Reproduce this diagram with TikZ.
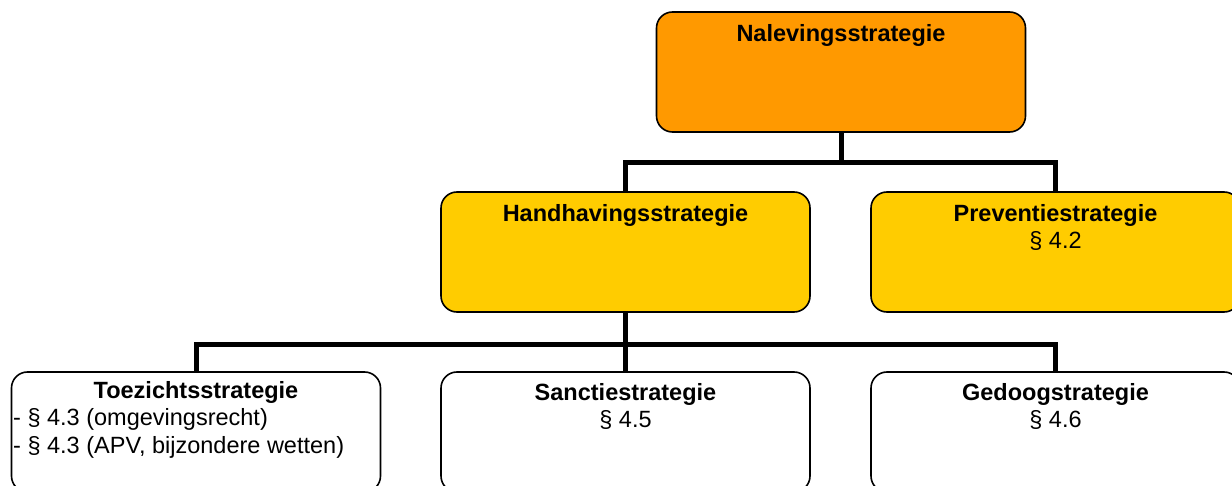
\documentclass[tikz,border=0pt]{standalone}
\usepackage{fontspec}
\setmainfont{Liberation Sans}
\begin{document}
\begin{tikzpicture}[x=1pt,y=-1pt,
  box/.style={draw=black,line width=1.6pt,rounded corners=16pt,
    minimum width=369pt,minimum height=120pt,inner sep=0pt},
  orangebox/.style={box,fill=naleving},
  yellowbox/.style={box,fill=strat},
  whitebox/.style={box,fill=white},
  wire/.style={line width=5pt},
  lbl/.style={anchor=base,inner sep=0pt,font=\fontsize{23.5}{28}\selectfont},
  title/.style={lbl,font=\fontsize{23.5}{28}\selectfont\bfseries}]
\definecolor{naleving}{HTML}{FF9900}
\definecolor{strat}{HTML}{FFCC00}
\useasboundingbox (0,0) rectangle (1232,486);
\clip (0,0) rectangle (1232,486);

% boxes
\node[orangebox] (nal)  at (841,72)    {};
\node[yellowbox] (hand) at (625.5,252) {};
\node[yellowbox] (prev) at (1055.5,252) {};
\node[whitebox]  (toez) at (196,432)   {};
\node[whitebox]  (sanc) at (625.5,432) {};
\node[whitebox]  (gedo) at (1055.5,432) {};

% connectors
\draw[wire] (nal.south) -- ++(0,30) -| (hand.north);
\draw[wire] (nal.south) -- ++(0,30) -| (prev.north);
\draw[wire] (hand.south) -- ++(0,32) -| (toez.north);
\draw[wire] (hand.south) -- (sanc.north);
\draw[wire] (hand.south) -- ++(0,32) -| (gedo.north);

% texts
\node[title] (tnal) at (841,42) {Nalevingsstrategie};
\node[title] (thand) at (625.5,222) {Handhavingsstrategie};
\node[title] (tprev) at (1055.5,222) {Preventiestrategie};
\node[lbl] (pprev) at (1055.5,249) {§ 4.2};
\node[title] (ttoez) at (196,398) {Toezichtsstrategie};
\node[lbl,anchor=base west] (ptoez1) at (13,425) {- § 4.3 (omgevingsrecht)};
\node[lbl,anchor=base west] (ptoez2) at (13,453) {- § 4.3 (APV, bijzondere wetten)};
\node[title] (tsanc) at (625.5,400) {Sanctiestrategie};
\node[lbl] (psanc) at (625.5,427) {§ 4.5};
\node[title] (tgedo) at (1055.5,400) {Gedoogstrategie};
\node[lbl] (pgedo) at (1055.5,427) {§ 4.6};
\end{tikzpicture}
\end{document}
